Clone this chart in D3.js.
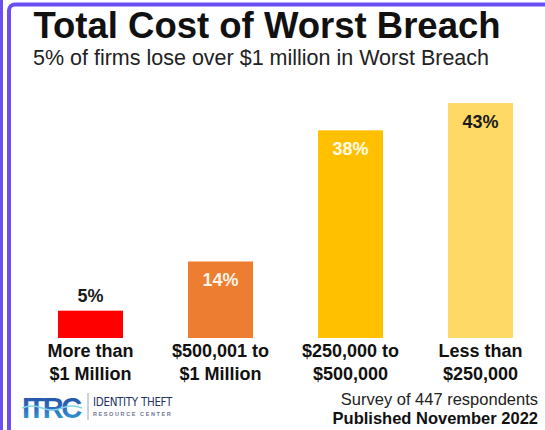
<!DOCTYPE html>
<html>
<head>
<meta charset="utf-8">
<script src="https://cdn.jsdelivr.net/npm/d3@7"></script>
<style>
  html, body { margin: 0; padding: 0; background: #fff; }
  svg { display: block; font-family: "Liberation Sans", Arial, sans-serif; }
</style>
</head>
<body>
<div id="chart-area"></div>
<script>
// data
var categories = ["More than|$1 Million", "$500,001 to|$1 Million", "$250,000 to|$500,000", "Less than|$250,000"];
var values = [5, 14, 38, 43];
var title = "Total Cost of Worst Breach";
var subtitle = "5% of firms lose over $1 million in Worst Breach";
var notes = ["Survey of 447 respondents", "Published November 2022"];

var width = 545, height = 430;

var svg = d3.select("#chart-area")
    .append("svg")
    .attr("width", width)
    .attr("height", height);

// frame: outer stripe + rounded inner border
svg.append("rect")
    .attr("x", 0).attr("y", 0)
    .attr("width", 3).attr("height", height)
    .attr("fill", "#6b4ff2");

svg.append("rect")
    .attr("x", 9).attr("y", 4.5)
    .attr("width", width + 20).attr("height", height + 20)
    .attr("rx", 6)
    .attr("fill", "none")
    .attr("stroke", "#6b4ff2")
    .attr("stroke-width", 4);

// titles
svg.append("text")
    .attr("x", 267).attr("y", 38)
    .attr("text-anchor", "middle")
    .style("font-size", "36.5px")
    .style("font-weight", "bold")
    .attr("fill", "#111")
    .text(title);

svg.append("text")
    .attr("x", 261).attr("y", 65)
    .attr("text-anchor", "middle")
    .style("font-size", "21.5px")
    .attr("fill", "#222")
    .text(subtitle);

// scales
var xScale = d3.scaleBand()
    .domain(categories)
    .range([25.5, 545.5])
    .paddingInner(0.5)
    .paddingOuter(0.25);

var yScale = d3.scaleLinear()
    .domain([0, 43])
    .range([338, 103]);

var barColor = d3.scaleOrdinal()
    .domain(categories)
    .range(["#ff0000", "#ed7d31", "#ffc000", "#ffd966"]);

var labelColor = d3.scaleOrdinal()
    .domain(categories)
    .range(["#1a1a1a", "#fff3e6", "#fffbe8", "#1a1a1a"]);

var data = categories.map(function(c, i) { return { cat: c, value: values[i] }; });

// bars
svg.selectAll("rect.bar")
    .data(data)
    .enter().append("rect")
    .attr("class", "bar")
    .attr("x", function(d) { return xScale(d.cat); })
    .attr("y", function(d) { return yScale(d.value); })
    .attr("width", xScale.bandwidth())
    .attr("height", function(d) { return yScale(0) - yScale(d.value); })
    .attr("fill", function(d) { return barColor(d.cat); });

// value labels (small bar -> above, others inside)
svg.selectAll("text.val")
    .data(data)
    .enter().append("text")
    .attr("class", "val")
    .attr("x", function(d) { return xScale(d.cat) + xScale.bandwidth() / 2; })
    .attr("y", function(d) {
        return d.value < 10 ? yScale(d.value) - 9 : yScale(d.value) + 25;
    })
    .attr("text-anchor", "middle")
    .style("font-size", "18px")
    .style("font-weight", "bold")
    .attr("fill", function(d) { return labelColor(d.cat); })
    .text(function(d) { return d.value + "%"; });

// category labels, two lines each
var catLabels = svg.selectAll("text.cat")
    .data(data)
    .enter().append("text")
    .attr("class", "cat")
    .attr("text-anchor", "middle")
    .style("font-size", "18px")
    .style("font-weight", "bold")
    .attr("fill", "#111");

catLabels.selectAll("tspan")
    .data(function(d) {
        return d.cat.split("|").map(function(s) { return { cat: d.cat, s: s }; });
    })
    .enter().append("tspan")
    .attr("x", function(d) { return xScale(d.cat) + xScale.bandwidth() / 2; })
    .attr("y", function(d, i) { return 357 + i * 23; })
    .text(function(d) { return d.s; });

// footer notes
svg.append("text")
    .attr("x", 538).attr("y", 405)
    .attr("text-anchor", "end")
    .style("font-size", "16.5px")
    .attr("fill", "#222")
    .text(notes[0]);

svg.append("text")
    .attr("x", 538).attr("y", 424)
    .attr("text-anchor", "end")
    .style("font-size", "16.5px")
    .style("font-weight", "bold")
    .attr("fill", "#111")
    .text(notes[1]);

// ITRC logo
var logo = svg.append("g").attr("transform", "translate(22,0)");
var grad = svg.append("defs").append("linearGradient")
    .attr("id", "logo-grad")
    .attr("x1", "0%").attr("y1", "0%").attr("x2", "0%").attr("y2", "100%");
grad.append("stop").attr("offset", "0%").attr("stop-color", "#1f4e9c");
grad.append("stop").attr("offset", "55%").attr("stop-color", "#2f6fc0");
grad.append("stop").attr("offset", "100%").attr("stop-color", "#2fb3d6");

logo.append("text")
    .attr("x", 0).attr("y", 418)
    .style("font-size", "29px")
    .style("font-weight", "bold")
    .style("letter-spacing", "-2.5px")
    .attr("fill", "url(#logo-grad)")
    .text("ITRC");

logo.append("path")
    .attr("d", "M0,408 Q10,404 20,408 T40,408 T60,408")
    .attr("fill", "none")
    .attr("stroke", "#7fd4ea")
    .attr("stroke-width", 1.5);

logo.append("line")
    .attr("x1", 66).attr("x2", 66)
    .attr("y1", 393).attr("y2", 420)
    .attr("stroke", "#9aa3b5")
    .attr("stroke-width", 1);

logo.append("text")
    .attr("x", 71).attr("y", 406)
    .style("font-size", "11.5px")
    .style("font-family", "'Liberation Sans Narrow', 'DejaVu Sans Condensed', sans-serif")
    .style("letter-spacing", "-0.3px")
    .attr("fill", "#24325f")
    .text("IDENTITY THEFT");

logo.append("text")
    .attr("x", 71).attr("y", 416)
    .style("font-size", "5.5px")
    .style("font-weight", "bold")
    .style("letter-spacing", "1.6px")
    .attr("fill", "#6b7590")
    .text("RESOURCE CENTER");
</script>
</body>
</html>
